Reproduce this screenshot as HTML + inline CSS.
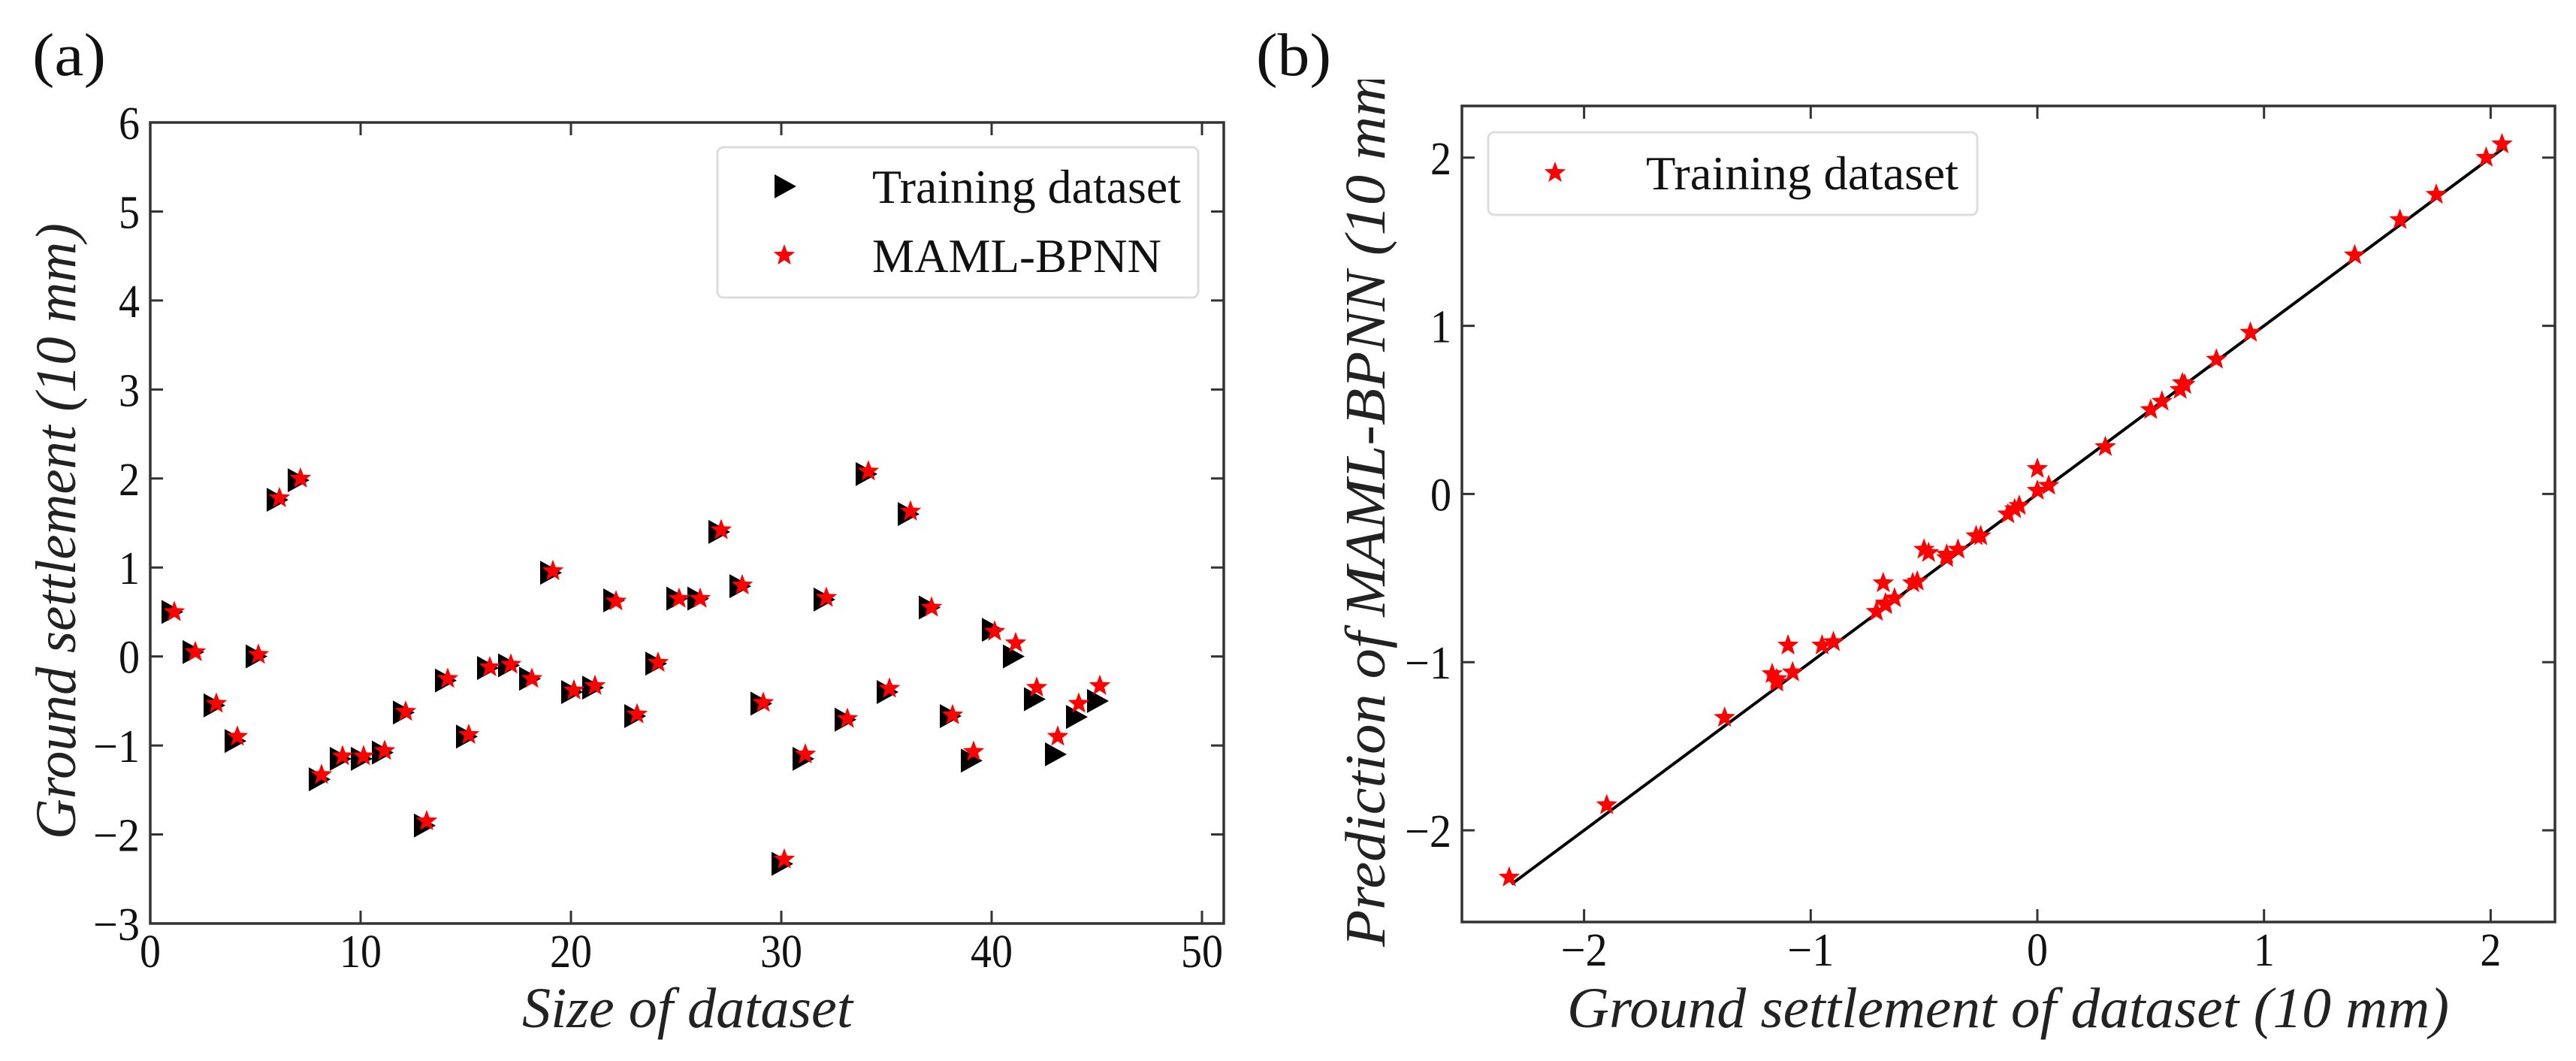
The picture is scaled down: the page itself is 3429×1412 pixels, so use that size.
<!DOCTYPE html>
<html><head><meta charset="utf-8"><style>
html,body{margin:0;padding:0;background:#fff;}
svg{display:block;}
text{font-family:"Liberation Serif","Times New Roman",serif;}
</style></head><body>
<svg id="fig" width="3429" height="1412" viewBox="0 0 3429 1412" xmlns="http://www.w3.org/2000/svg" font-family="Liberation Serif, serif">
<rect width="3429" height="1412" fill="#fff"/>
<defs><clipPath id="clipYl"><rect x="1700" y="106" width="200" height="1300"/></clipPath></defs>
<g id="pa"></g>
<g id="pb"></g>
</svg>
<script>
const sampleIdx = [1,2,3,4,5,6,7,8,9,10,11,12,13,14,15,16,17,18,19,20,21,22,23,24,25,26,27,28,29,30,31,32,33,34,35,36,37,38,39,40,41,42,43,44,45];
const trainingVals = [0.5,0.05,-0.55,-0.95,0.0,1.76,1.98,-1.38,-1.15,-1.15,-1.08,-0.63,-1.9,-0.27,-0.9,-0.13,-0.1,-0.25,0.94,-0.4,-0.35,0.63,-0.67,-0.08,0.65,0.65,1.4,0.79,-0.53,-2.33,-1.15,0.64,-0.71,2.05,-0.4,1.6,0.55,-0.67,-1.17,0.3,0.0,-0.48,-1.1,-0.68,-0.5];
const predVals = [0.5,0.05,-0.53,-0.9,0.02,1.78,2.0,-1.33,-1.12,-1.12,-1.06,-0.62,-1.85,-0.25,-0.88,-0.12,-0.09,-0.25,0.96,-0.38,-0.33,0.62,-0.65,-0.07,0.65,0.65,1.42,0.8,-0.52,-2.28,-1.1,0.66,-0.7,2.08,-0.36,1.63,0.55,-0.66,-1.07,0.28,0.15,-0.35,-0.9,-0.53,-0.33];
const aXTicks = [0,10,20,30,40,50];
const aYTicks = [-3,-2,-1,0,1,2,3,4,5,6];
const bXTicks = [-2,-1,0,1,2];
const bYTicks = [-2,-1,0,1,2];
const fitLine = [-2.32, 2.06];

const NS = "http://www.w3.org/2000/svg";
function mk(parent, tag, attrs, text){
  const e = document.createElementNS(NS, tag);
  for (const k in attrs) e.setAttribute(k, attrs[k]);
  if (text !== undefined) e.textContent = text;
  parent.appendChild(e);
  return e;
}
function starPath(cx, cy, R){
  const r = R*0.42; let d = "";
  for (let i=0;i<10;i++){
    const rad = i%2===0 ? R : r;
    const a = -Math.PI/2 + i*Math.PI/5;
    d += (i===0?"M":"L") + (cx+rad*Math.cos(a)).toFixed(1) + "," + (cy+rad*Math.sin(a)).toFixed(1);
  }
  return d + "Z";
}
function fmt(v){ return v < 0 ? "\u2212" + Math.abs(v) : String(v); }
function labW(v){ const s = String(Math.abs(v)); return s.length*28 + (v<0?34:0); }

function axesFrame(g, L, T, R, B, xs, ys, xt, yt){
  mk(g, "rect", {x:L, y:T, width:R-L, height:B-T, fill:"none", stroke:"#333", "stroke-width":3.5});
  const tl = 17;
  xt.forEach(v=>{
    const x = xs(v);
    const t1 = mk(g, "line", {x1:x, y1:B, x2:x, y2:B-tl, stroke:"#333", "stroke-width":3});
     
    mk(g, "line", {x1:x, y1:T, x2:x, y2:T+tl, stroke:"#333", "stroke-width":3});
    const lb = mk(g, "text", {x:x, y:B+58, "font-size":62, "text-anchor":"middle", fill:"#111", textLength:labW(v), lengthAdjust:"spacingAndGlyphs"}, fmt(v));
     
  });
  yt.forEach(v=>{
    const y = ys(v);
    const t1 = mk(g, "line", {x1:L, y1:y, x2:L+tl, y2:y, stroke:"#333", "stroke-width":3});
     
    mk(g, "line", {x1:R, y1:y, x2:R-tl, y2:y, stroke:"#333", "stroke-width":3});
    const lb = mk(g, "text", {x:L-14, y:y+22, "font-size":62, "text-anchor":"end", fill:"#111", textLength:labW(v), lengthAdjust:"spacingAndGlyphs"}, fmt(v));
     
  });
}

// Panel A
(function(){
  const g = document.getElementById("pa");
  const L=200, R=1629, T=163, B=1229;
  const xs = v => 200 + v*28;
  const ys = v => 163 + (6 - v)*118.44;
  axesFrame(g, L, T, R, B, xs, ys, aXTicks, aYTicks);
  const lab = mk(g, "text", {x:43, y:100, "font-size":80, fill:"#111", textLength:98, lengthAdjust:"spacingAndGlyphs"}, "(a)");
   
  const xl = mk(g, "text", {x:915, y:1367, "font-size":76, "font-style":"italic", "text-anchor":"middle", fill:"#222", textLength:440, lengthAdjust:"spacingAndGlyphs"}, "Size of dataset");
   
  const yl = mk(g, "text", {x:0, y:0, "font-size":76, "font-style":"italic", "text-anchor":"middle", fill:"#222", transform:"translate(100,707) rotate(-90)", textLength:820, lengthAdjust:"spacingAndGlyphs"}, "Ground settlement (10 mm)");
   
  sampleIdx.forEach((s,i)=>{
    const x = xs(s), y = ys(trainingVals[i]);
    const p = mk(g, "path", {d:`M${x-13},${y-16}L${x+16},${y}L${x-13},${y+16}Z`, fill:"#000"});
     
  });
  sampleIdx.forEach((s,i)=>{
    const p = mk(g, "path", {d:starPath(xs(s)+4, ys(predVals[i]), 15), fill:"#f00"});
     
  });
  const lg = mk(g, "g", {});
   
  mk(lg, "rect", {x:955, y:196, width:640, height:200, rx:8, fill:"#fff", stroke:"#ddd", "stroke-width":3});
  mk(lg, "path", {d:"M1031,232L1060,248L1031,264Z", fill:"#000"});
  const t1 = mk(lg, "text", {x:1161, y:270, "font-size":63, fill:"#111", textLength:411, lengthAdjust:"spacingAndGlyphs"}, "Training dataset");
   
  mk(lg, "path", {d:starPath(1044, 340, 15), fill:"#f00"});
  const t2 = mk(lg, "text", {x:1161, y:362, "font-size":63, fill:"#111", textLength:385, lengthAdjust:"spacingAndGlyphs"}, "MAML-BPNN");
   
})();

// Panel B
(function(){
  const g = document.getElementById("pb");
  const L=1946, R=3401, T=141, B=1227;
  const xs = v => 2712 + v*301.7;
  const ys = v => 657.4 - v*223.8;
  axesFrame(g, L, T, R, B, xs, ys, bXTicks, bYTicks);
  const lab = mk(g, "text", {x:1672, y:100, "font-size":80, fill:"#111", textLength:100, lengthAdjust:"spacingAndGlyphs"}, "(b)");
   
  const xl = mk(g, "text", {x:2673, y:1367, "font-size":76, "font-style":"italic", "text-anchor":"middle", fill:"#222", textLength:1174, lengthAdjust:"spacingAndGlyphs"}, "Ground settlement of dataset (10 mm)");
   
  const yg = mk(g, "g", {"clip-path":"url(#clipYl)"});
  const yl = mk(yg, "text", {x:0, y:0, "font-size":76, "font-style":"italic", "text-anchor":"middle", fill:"#222", transform:"translate(1843,665) rotate(-90)", textLength:1190, lengthAdjust:"spacingAndGlyphs"}, "Prediction of MAML-BPNN (10 mm)");
   
  const ln = mk(g, "line", {x1:xs(fitLine[0]), y1:ys(fitLine[0]), x2:xs(fitLine[1]), y2:ys(fitLine[1]), stroke:"#000", "stroke-width":4});
   
  trainingVals.forEach((v,i)=>{
    const p = mk(g, "path", {d:starPath(xs(v), ys(predVals[i]), 15), fill:"#f00"});
     
  });
  const lg = mk(g, "g", {});
   
  mk(lg, "rect", {x:1981, y:176, width:651, height:110, rx:8, fill:"#fff", stroke:"#ddd", "stroke-width":3});
  mk(lg, "path", {d:starPath(2070, 230, 15), fill:"#f00"});
  const t1 = mk(lg, "text", {x:2191, y:252, "font-size":63, fill:"#111", textLength:416, lengthAdjust:"spacingAndGlyphs"}, "Training dataset");
   
})();
</script>
</body></html>
